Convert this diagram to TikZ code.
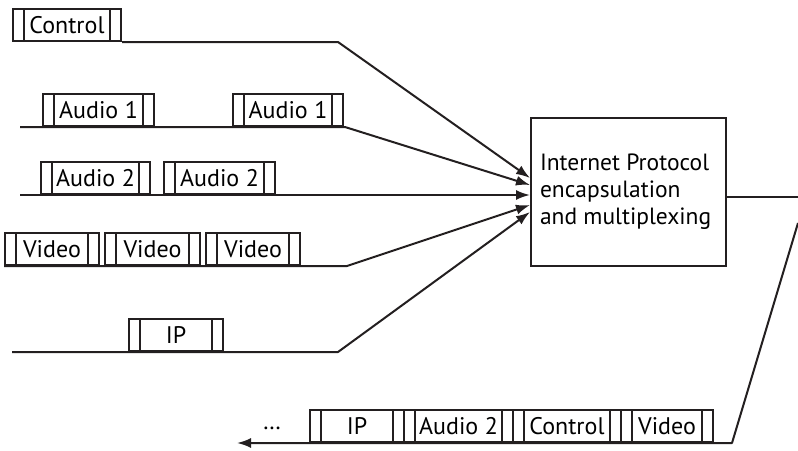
\documentclass[tikz,border=0pt]{standalone}
\usepackage{fontspec}
\setmainfont{PT Sans}
\usetikzlibrary{arrows.meta,positioning,calc}
\definecolor{LineBlack}{HTML}{231F20}
\tikzset{
    % packet with header and trailer cells
    packet/.style={
        rectangle,
        draw=LineBlack,
        line width=2pt,
        minimum height=32pt,
        inner sep=0pt,
        anchor=south west,
        font=\fontsize{24}{27}\selectfont,
        path picture={
            \draw[LineBlack, line width=2pt]
                ([xshift=11pt]path picture bounding box.south west) --
                ([xshift=11pt]path picture bounding box.north west);
            \draw[LineBlack, line width=2pt]
                ([xshift=-11pt]path picture bounding box.south east) --
                ([xshift=-11pt]path picture bounding box.north east);
        }
    },
    mux box/.style={
        rectangle,
        draw=LineBlack,
        line width=2pt,
        minimum width=195pt,
        minimum height=148pt,
        text width=177pt,
        align=flush left,
        inner sep=0pt,
        font=\fontsize{23.5}{27}\selectfont
    },
    stream/.style={
        draw=LineBlack,
        line width=2pt,
        line join=round
    },
    arrow/.style={
        stream,
        -{Latex[length=14pt,width=10pt]}
    }
}
\begin{document}
\begin{tikzpicture}[x=1pt, y=-1pt]
        \useasboundingbox (0,0) rectangle (798,450);

        % Multiplexer
        \node[mux box] (mux) at (628.5,192) {Internet Protocol\\encapsulation\\and multiplexing};

        % Input streams
        \coordinate (a1start) at (20,127);
        \coordinate (a2start) at (20,195);
        \coordinate (ipstart) at (12,352);

        \node[packet, minimum width=108pt] (ctl) at (12,42) {Control};

        \node[packet, minimum width=111pt] (aud1a) at (42,127) {Audio 1};
        \node[packet, minimum width=110pt] (aud1b) at (232,127) {Audio 1};

        \node[packet, minimum width=109pt] (aud2a) at (40,195) {Audio 2};
        \node[packet, minimum width=111pt] (aud2b) at (163,195) {Audio 2};

        \node[packet, minimum width=94pt] (vida) at (4,266) {Video};
        \node[packet, minimum width=95pt] (vidb) at (104,266) {Video};
        \node[packet, minimum width=94pt] (vidc) at (205,266) {Video};

        \node[packet, minimum width=94pt] (ipin) at (128,352) {IP};

        % Arrows into the box
        \draw[arrow] (ctl.south east) -- (338,42) -- ([yshift=14pt]mux.west);
        \draw[arrow] (a1start) -- (345,127) -- ([yshift=7pt]mux.west);
        \draw[arrow] (a2start) -- ([yshift=-3pt]mux.west);
        \draw[arrow] (vida.south west) -- (347,266) -- ([yshift=-13pt]mux.west);
        \draw[arrow] (ipstart) -- (338,352) -- ([yshift=-20pt]mux.west);

        % Output stream
        \coordinate (outend) at (798,197);
        \coordinate (wrap) at (798,223);
        \coordinate (outtip) at (237,443);

        \node[packet, minimum width=94pt] (ipout) at (309,443) {IP};
        \node[packet, minimum width=109pt] (aud2out) at (403,443) {Audio 2};
        \node[packet, minimum width=108pt] (ctlout) at (512,443) {Control};
        \node[packet, minimum width=92pt] (vidout) at (620,443) {Video};
        \node[font=\fontsize{24}{27}\selectfont] (dots) at (272,428) {\dots};

        \draw[stream] ([yshift=-5pt]mux.east) -- (outend);
        \draw[arrow] (wrap) -- (732,443) -- (outtip);
    \end{tikzpicture}
\end{document}
